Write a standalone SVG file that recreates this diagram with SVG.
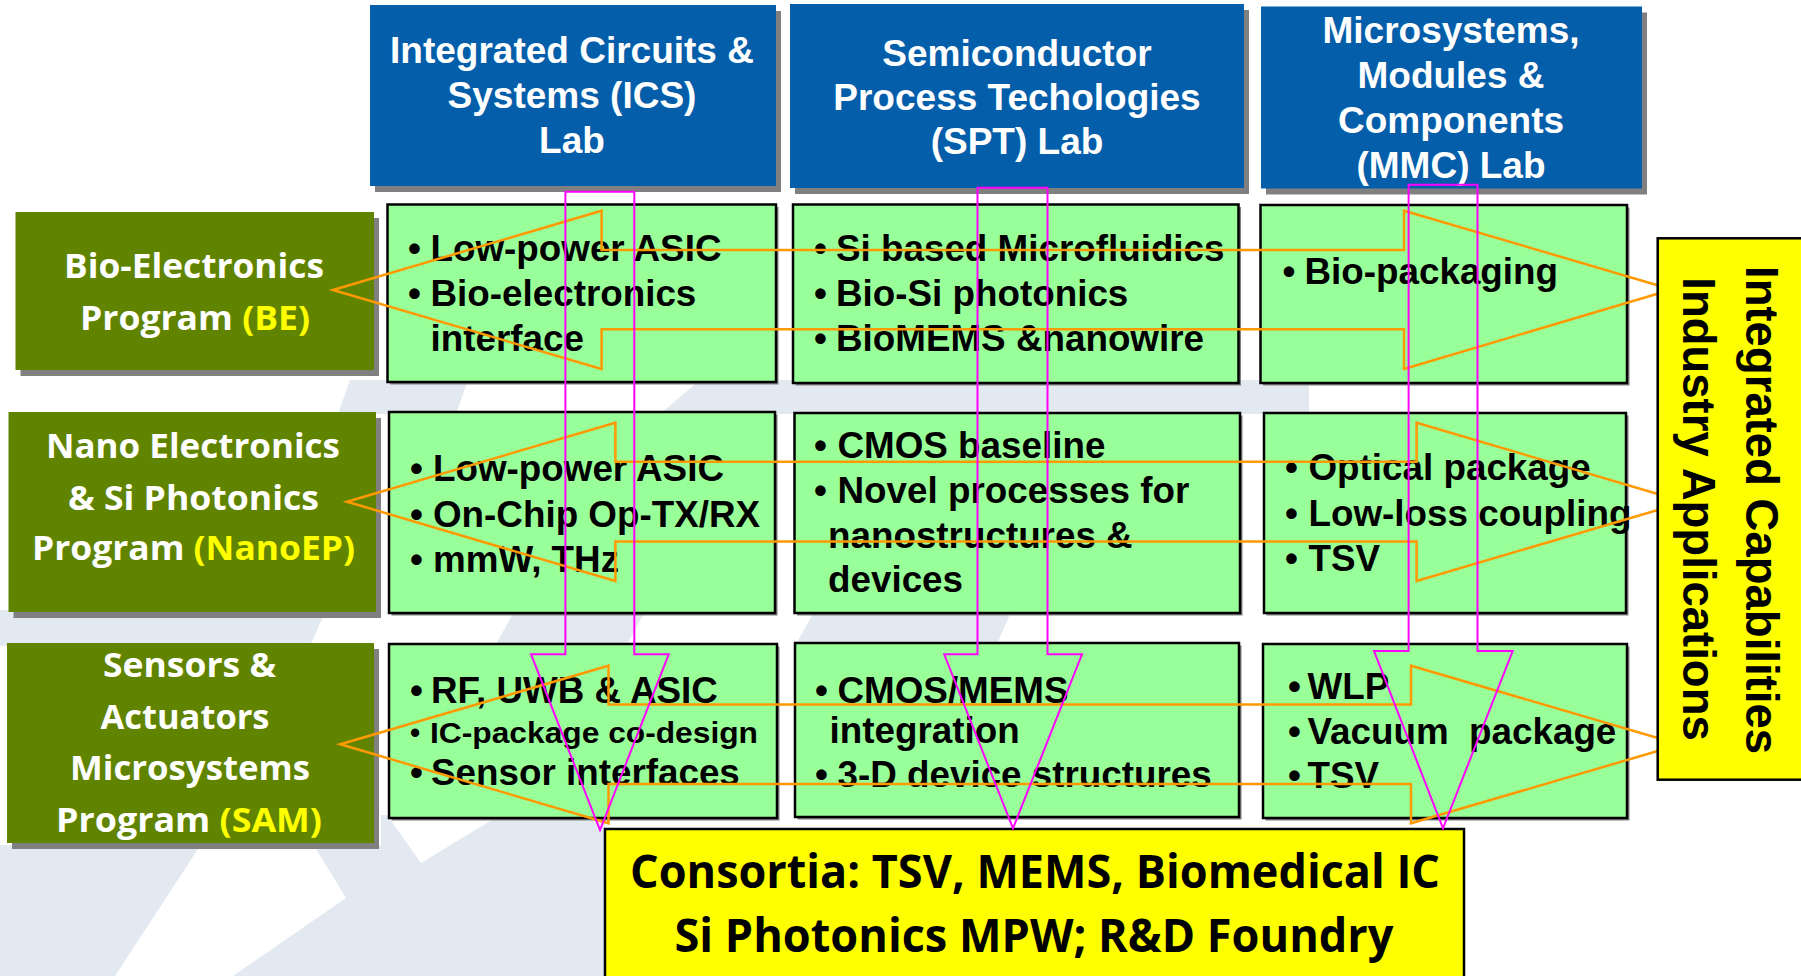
<svg xmlns="http://www.w3.org/2000/svg" width="1801" height="976" viewBox="0 0 1801 976">
<style>
.wm{fill:#E3E9F1}
.wh{fill:#FFFFFF}
.sh{fill:#808080}
.lab{fill:#045EAA}
.prog{fill:#618400}
.cell{fill:#99FF99;stroke:#000;stroke-width:2.5}
.ybox{fill:#FFFF00;stroke:#000;stroke-width:2.5}
.labt{font-family:"Liberation Sans",Arial,sans-serif;font-weight:bold;font-size:37px;fill:#FFFFFF;text-anchor:middle}
.bt{font-family:"Liberation Sans",Arial,sans-serif;font-weight:bold;font-size:36.8px;fill:#000}
.pt{font-family:"Open Sans","Liberation Sans",sans-serif;font-weight:700;font-size:34.5px;fill:#FFFFFF}
.ct{font-family:"Open Sans","Liberation Sans",sans-serif;font-weight:700;font-size:46.5px;fill:#000}
.rt{font-family:"Liberation Sans",Arial,sans-serif;font-weight:bold;font-size:45.5px;fill:#000;text-anchor:middle}
.yl{fill:#FFFF00}
.or{fill:none;stroke:#FF9900;stroke-width:2.5;stroke-linejoin:miter}
.mg{fill:none;stroke:#FF00FF;stroke-width:2}
</style>
<rect x="0" y="0" width="1801" height="976" fill="#FFFFFF"/>
<g id="watermark">
<polygon class="wm" points="350,380 468,380 456,414 338,414"/>
<polygon class="wm" points="700,380 1309,380 1309,414 660,414"/>
<polygon class="wm" points="0,610 326,610 310,646 0,646"/>
<polygon class="wm" points="515,610 646,610 626,646 495,646"/>
<polygon class="wm" points="815,610 1012,610 996,646 795,646"/>
<polygon class="wm" points="0,845 381,845 381,815 605,815 605,976 0,976"/>
<polygon class="wh" points="198,849 316,849 346,898 233,976 115,976"/>
<polygon class="wh" points="387,815 500,815 421,863"/>
</g>
<g id="lab-ics">
<rect class="sh" x="375" y="11" width="406" height="181"/>
<rect class="lab" x="370" y="5" width="406" height="181"/>
<text class="labt" x="572" y="63">Integrated Circuits &amp;</text>
<text class="labt" x="572" y="108">Systems (ICS)</text>
<text class="labt" x="572" y="153">Lab</text>
</g>
<g id="lab-spt">
<rect class="sh" x="795" y="10" width="454" height="184"/>
<rect class="lab" x="790" y="4" width="454" height="184"/>
<text class="labt" x="1017" y="66">Semiconductor</text>
<text class="labt" x="1017" y="110">Process Techologies</text>
<text class="labt" x="1017" y="154">(SPT) Lab</text>
</g>
<g id="lab-mmc">
<rect class="sh" x="1266" y="12.5" width="381" height="182"/>
<rect class="lab" x="1261" y="6.5" width="381" height="182"/>
<text class="labt" x="1451" y="43">Microsystems,</text>
<text class="labt" x="1451" y="88">Modules &amp;</text>
<text class="labt" x="1451" y="133">Components</text>
<text class="labt" x="1451" y="178">(MMC) Lab</text>
</g>
<g id="prog-be">
<rect class="sh" x="20.5" y="218" width="358.5" height="158"/>
<rect class="prog" x="15.5" y="212" width="358.5" height="158"/>
<text class="pt" x="64" y="278" textLength="260" lengthAdjust="spacingAndGlyphs">Bio-Electronics</text>
<text class="pt" x="80" y="330" textLength="230" lengthAdjust="spacingAndGlyphs">Program <tspan class="yl">(BE)</tspan></text>
</g>
<g id="prog-nanoep">
<rect class="sh" x="13.5" y="418" width="367.5" height="200"/>
<rect class="prog" x="8.5" y="412" width="367.5" height="200"/>
<text class="pt" x="46" y="458" textLength="294" lengthAdjust="spacingAndGlyphs">Nano Electronics</text>
<text class="pt" x="68" y="510" textLength="251" lengthAdjust="spacingAndGlyphs">&amp; Si Photonics</text>
<text class="pt" x="32" y="560" textLength="323" lengthAdjust="spacingAndGlyphs">Program <tspan class="yl">(NanoEP)</tspan></text>
</g>
<g id="prog-sam">
<rect class="sh" x="12" y="649" width="367" height="200"/>
<rect class="prog" x="7" y="643" width="367" height="200"/>
<text class="pt" x="103" y="677" textLength="173" lengthAdjust="spacingAndGlyphs">Sensors &amp;</text>
<text class="pt" x="100.5" y="729" textLength="169" lengthAdjust="spacingAndGlyphs">Actuators</text>
<text class="pt" x="70" y="780" textLength="240" lengthAdjust="spacingAndGlyphs">Microsystems</text>
<text class="pt" x="56" y="832" textLength="266" lengthAdjust="spacingAndGlyphs">Program <tspan class="yl">(SAM)</tspan></text>
</g>
<g id="cell-ics-be">
<rect class="sh" x="390" y="207" width="388.5" height="177.5"/>
<rect class="cell" x="387.5" y="204.5" width="388.5" height="177.5"/>
<text class="bt" x="408" y="261">•</text><text class="bt" x="430.5" y="261">Low-power ASIC</text>
<text class="bt" x="408" y="306">•</text><text class="bt" x="430.5" y="306">Bio-electronics</text>
<text class="bt" x="430.5" y="351">interface</text>
</g>
<g id="cell-spt-be">
<rect class="sh" x="795.5" y="207" width="445.5" height="178.5"/>
<rect class="cell" x="793" y="204.5" width="445.5" height="178.5"/>
<text class="bt" x="814" y="261">•</text><text class="bt" x="836" y="261">Si based Microfluidics</text>
<text class="bt" x="814" y="306">•</text><text class="bt" x="836" y="306">Bio-Si photonics</text>
<text class="bt" x="814" y="351">•</text><text class="bt" x="836" y="351">BioMEMS &amp;nanowire</text>
</g>
<g id="cell-mmc-be">
<rect class="sh" x="1263" y="207.5" width="366.5" height="178"/>
<rect class="cell" x="1260.5" y="205" width="366.5" height="178"/>
<text class="bt" x="1282.5" y="284">•</text><text class="bt" x="1304.5" y="284">Bio-packaging</text>
</g>
<g id="cell-ics-nano">
<rect class="sh" x="391.5" y="414.5" width="386" height="201"/>
<rect class="cell" x="389" y="412" width="386" height="201"/>
<text class="bt" x="410" y="481">•</text><text class="bt" x="433" y="481">Low-power ASIC</text>
<text class="bt" x="410" y="526.5">•</text><text class="bt" x="433" y="526.5">On-Chip Op-TX/RX</text>
<text class="bt" x="410" y="571.5">•</text><text class="bt" x="433" y="571.5">mmW, THz</text>
</g>
<g id="cell-spt-nano">
<rect class="sh" x="797" y="415.5" width="445.5" height="200"/>
<rect class="cell" x="794.5" y="413" width="445.5" height="200"/>
<text class="bt" x="814" y="458">•</text><text class="bt" x="837.5" y="458">CMOS baseline</text>
<text class="bt" x="814" y="503">•</text><text class="bt" x="837.5" y="503">Novel processes for</text>
<text class="bt" x="828" y="548">nanostructures &amp;</text>
<text class="bt" x="828" y="591.5">devices</text>
</g>
<g id="cell-mmc-nano">
<rect class="sh" x="1266.5" y="415.5" width="362" height="200"/>
<rect class="cell" x="1264" y="413" width="362" height="200"/>
<text class="bt" x="1285" y="480">•</text><text class="bt" x="1308.5" y="480">Optical package</text>
<text class="bt" x="1285" y="526">•</text><text class="bt" x="1308.5" y="526">Low-loss coupling</text>
<text class="bt" x="1285" y="570.5">•</text><text class="bt" x="1308.5" y="570.5">TSV</text>
</g>
<g id="cell-ics-sam">
<rect class="sh" x="391.5" y="646.5" width="388" height="174"/>
<rect class="cell" x="389" y="644" width="388" height="174"/>
<text class="bt" x="410" y="703">•</text><text class="bt" x="431" y="703">RF, UWB &amp; ASIC</text>
<text class="bt" x="410" y="743" style="font-size:29px">•</text><text class="bt" x="430" y="743" style="font-size:29px" textLength="328" lengthAdjust="spacingAndGlyphs">IC-package co-design</text>
<text class="bt" x="410" y="785">•</text><text class="bt" x="431" y="785">Sensor interfaces</text>
</g>
<g id="cell-spt-sam">
<rect class="sh" x="797.5" y="645.5" width="444" height="174"/>
<rect class="cell" x="795" y="643" width="444" height="174"/>
<text class="bt" x="815" y="702.5">•</text><text class="bt" x="837.5" y="702.5">CMOS/MEMS</text>
<text class="bt" x="829.5" y="743">integration</text>
<text class="bt" x="815" y="786.5">•</text><text class="bt" x="837.5" y="786.5">3-D device structures</text>
</g>
<g id="cell-mmc-sam">
<rect class="sh" x="1265.5" y="646.5" width="364" height="174"/>
<rect class="cell" x="1263" y="644" width="364" height="174"/>
<text class="bt" x="1288" y="699">•</text><text class="bt" x="1307.5" y="699">WLP</text>
<text class="bt" x="1288" y="744">•</text><text class="bt" x="1307.5" y="744" style="white-space:pre" xml:space="preserve">Vacuum  package</text>
<text class="bt" x="1288" y="788">•</text><text class="bt" x="1307.5" y="788">TSV</text>
</g>
<g id="consortia">
<rect class="ybox" x="605" y="829" width="859" height="170"/>
<text class="ct" x="630" y="888" textLength="810" lengthAdjust="spacingAndGlyphs">Consortia: TSV, MEMS, Biomedical IC</text>
<text class="ct" x="674.5" y="951.5" textLength="719" lengthAdjust="spacingAndGlyphs">Si Photonics MPW; R&amp;D Foundry</text>
</g>
<g id="connectors">
<polygon class="or" points="333,290 601.6,210.7 601.6,250 1404,250 1404,210.7 1672,289.5 1404,369 1404,329.3 601.6,329.3 601.6,369"/>
<polygon class="or" points="347,501.7 615.4,422.7 615.4,461.7 1416.6,461.7 1416.6,422.7 1685,502 1416.6,581 1416.6,541.5 615.4,541.5 615.4,581"/>
<polygon class="or" points="340.4,744.3 608.5,665.7 608.5,704.5 1411,704.5 1411,665.7 1680,744.5 1411,823.3 1411,784 608.5,784 608.5,823.3"/>
<polygon class="mg" points="565.4,191.7 634.3,191.7 634.3,654.2 668.8,654.2 600,830 531,654.2 565.4,654.2"/>
<polygon class="mg" points="977.5,187.7 1047.5,187.7 1047.5,654.3 1082,654.3 1013,828.3 944.2,654.3 977.5,654.3"/>
<polygon class="mg" points="1408.6,184.8 1477.5,184.8 1477.5,651 1512.7,651 1443,828.3 1374,651 1408.6,651"/>
</g>
<g id="integrated">
<rect class="ybox" x="1657.7" y="238.3" width="160" height="541.4"/>
<text class="rt" transform="translate(1746,510) rotate(90)">Integrated Capabilities</text>
<text class="rt" transform="translate(1683,509) rotate(90)">Industry Applications</text>
</g>
</svg>
